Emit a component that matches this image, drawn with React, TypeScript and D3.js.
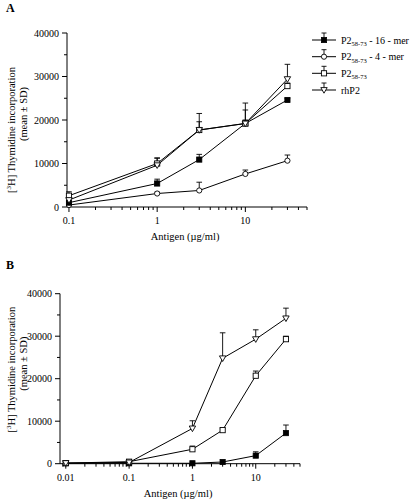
import React from "react";
import * as d3 from "d3";

// ---------- Data ----------
const concA = [0.1, 1, 3, 10, 30];
const a16mer = [1000, 5400, 10900, 19200, 24600];
const a16merSD = [300, 1000, 1200, 800, 400];
const a4mer = [450, 3100, 3800, 7600, 10650];
const a4merSD = [200, 300, 1900, 900, 1300];
const aP2pep = [2600, 10000, 17700, 19200, 27800];
const aP2pepSD = [900, 1300, 1900, 3100, 700];
const arhP2 = [1600, 9600, 17700, 19200, 29400];
const arhP2SD = [500, 1600, 3800, 4700, 3400];

const concB = [0.01, 0.1, 1, 3, 10, 30];
const b16mer = [100, 100, 100, 400, 1900, 7200];
const b16merSD = [0, 0, 0, 0, 900, 1900];
const bP2pep = [150, 470, 3400, 7900, 20700, 29300];
const bP2pepSD = [0, 0, 750, 300, 1100, 700];
const brhP2 = [150, 300, 8300, 24800, 29300, 34200];
const brhP2SD = [0, 0, 1800, 6000, 2200, 2400];

const yTicks = [0, 10000, 20000, 30000, 40000];
const yMinorTicks = [5000, 15000, 25000, 35000];

const legendNames = ["16-mer", "4-mer", "pep", "rhP2"];

type Marker = "fsq" | "circ" | "osq" | "tri";

interface Series {
  values: number[];
  sd: number[];
  marker: Marker;
}

const FONT = "Liberation Serif, Times New Roman, DejaVu Serif, serif";
const TS: React.CSSProperties = { fontFamily: FONT };

function MarkerShape({ type, cx, cy }: { type: Marker; cx: number; cy: number }) {
  const s = 2.6;
  if (type === "fsq")
    return <rect x={cx - s} y={cy - s} width={2 * s} height={2 * s} fill="#000" stroke="#000" strokeWidth={0.8} />;
  if (type === "osq")
    return <rect x={cx - s} y={cy - s} width={2 * s} height={2 * s} fill="#fff" stroke="#000" strokeWidth={0.9} />;
  if (type === "circ")
    return <circle cx={cx} cy={cy} r={2.6} fill="#fff" stroke="#000" strokeWidth={0.9} />;
  const t = 3.2;
  return (
    <path
      d={`M${cx - t},${cy - 2.4}L${cx + t},${cy - 2.4}L${cx},${cy + 3.2}Z`}
      fill="#fff"
      stroke="#000"
      strokeWidth={0.9}
    />
  );
}

function Panel({
  label,
  labelY,
  conc,
  series,
  xDomain,
  xRange,
  yRange,
  xTickVals,
  xTickLabels,
  yLab1,
  yLab2,
}: {
  label: string;
  labelY: number;
  conc: number[];
  series: Series[];
  xDomain: [number, number];
  xRange: [number, number];
  yRange: [number, number];
  xTickVals: number[];
  xTickLabels: string[];
  yLab1: number;
  yLab2: number;
}) {
  const x = d3.scaleLog().domain(xDomain).range(xRange);
  const y = d3.scaleLinear().domain([0, 40000]).range(yRange);
  const y0 = y(0);
  const xl = xRange[0];

  const minor: number[] = [];
  for (let e = -3; e <= 2; e++) {
    for (let m = 1; m <= 9; m++) {
      const v = m * Math.pow(10, e);
      if (v >= xDomain[0] && v <= xDomain[1] + 1e-9) minor.push(v);
    }
  }
  const line = d3
    .line<number>()
    .x((_, i) => x(conc[i]))
    .y((d) => y(d));

  const yMid = (yRange[0] + yRange[1]) / 2;
  const xMid = (xRange[0] + xRange[1]) / 2;

  return (
    <g>
      <text x={6} y={labelY} fontSize={12} fontWeight="bold" style={TS}>
        {label}
      </text>
      <line x1={xl} x2={xl} y1={y0} y2={yRange[1]} stroke="#000" strokeWidth={1} />
      <line x1={xl} x2={xRange[1]} y1={y0} y2={y0} stroke="#000" strokeWidth={1} />
      {yTicks.map((t) => (
        <g key={t}>
          <line x1={xl - 5} x2={xl} y1={y(t)} y2={y(t)} stroke="#000" />
          <text x={xl - 8} y={y(t) + 3.5} fontSize={10} textAnchor="end" style={TS}>
            {t}
          </text>
        </g>
      ))}
      {yMinorTicks.map((t) => (
        <line key={t} x1={xl - 3} x2={xl} y1={y(t)} y2={y(t)} stroke="#000" />
      ))}
      {minor.map((v) => {
        const major = Math.abs(Math.log10(v) - Math.round(Math.log10(v))) < 1e-6;
        return <line key={v} x1={x(v)} x2={x(v)} y1={y0} y2={y0 + (major ? 5 : 3)} stroke="#000" />;
      })}
      {xTickVals.map((v, i) => (
        <text key={v} x={x(v)} y={y0 + 17} fontSize={10} textAnchor="middle" style={TS}>
          {xTickLabels[i]}
        </text>
      ))}
      <text x={xMid - 2} y={y0 + 33} fontSize={10.5} textAnchor="middle" style={TS}>
        Antigen (µg/ml)
      </text>
      <text
        transform={`translate(15,${yMid + yLab1}) rotate(-90)`}
        fontSize={10.5}
        textAnchor="middle"
        style={TS}
      >
        [<tspan fontSize={7} dy={-4}>3</tspan>
        <tspan dy={4}>H] Thymidine incorporation</tspan>
      </text>
      <text
        transform={`translate(27,${yMid + yLab2}) rotate(-90)`}
        fontSize={10.5}
        textAnchor="middle"
        style={TS}
      >
        (mean ± SD)
      </text>
      {series.map((s, k) => (
        <path key={"l" + k} d={line(s.values) || ""} fill="none" stroke="#000" strokeWidth={1} />
      ))}
      {series.map((s, k) =>
        s.values.map((v, i) =>
          s.sd[i] > 0 ? (
            <g key={"e" + k + "-" + i}>
              <line x1={x(conc[i])} x2={x(conc[i])} y1={y(v)} y2={y(v + s.sd[i])} stroke="#000" strokeWidth={0.9} />
              <line
                x1={x(conc[i]) - 2.8}
                x2={x(conc[i]) + 2.8}
                y1={y(v + s.sd[i])}
                y2={y(v + s.sd[i])}
                stroke="#000"
                strokeWidth={0.9}
              />
            </g>
          ) : null
        )
      )}
      {series.map((s, k) =>
        s.values.map((v, i) => <MarkerShape key={"m" + k + "-" + i} type={s.marker} cx={x(conc[i])} cy={y(v)} />)
      )}
    </g>
  );
}

function Legend() {
  const markers: Marker[] = ["fsq", "circ", "osq", "tri"];
  const rows = [40, 56.7, 73.3, 90];
  return (
    <g>
      {legendNames.map((n, i) => {
        const cy = rows[i];
        return (
          <g key={n}>
            <line x1={312} x2={336} y1={cy} y2={cy} stroke="#000" />
            <line x1={324} x2={324} y1={cy} y2={cy - 7} stroke="#000" strokeWidth={0.9} />
            <line x1={321.5} x2={326.5} y1={cy - 7} y2={cy - 7} stroke="#000" strokeWidth={0.9} />
            <MarkerShape type={markers[i]} cx={324} cy={cy} />
            <text x={341} y={cy + 3.5} fontSize={10} style={TS}>
              {n === "rhP2" ? (
                "rhP2"
              ) : (
                <>
                  P2
                  <tspan fontSize={6.5} dy={2.5}>
                    58-73
                  </tspan>
                  {n === "pep" ? null : <tspan dy={-2.5}>{n === "16-mer" ? " - 16 - mer" : " - 4 - mer"}</tspan>}
                </>
              )}
            </text>
          </g>
        );
      })}
    </g>
  );
}

export default function App() {
  const seriesA: Series[] = [
    { values: a4mer, sd: a4merSD, marker: "circ" },
    { values: a16mer, sd: a16merSD, marker: "fsq" },
    { values: aP2pep, sd: aP2pepSD, marker: "osq" },
    { values: arhP2, sd: arhP2SD, marker: "tri" },
  ];
  const seriesB: Series[] = [
    { values: b16mer, sd: b16merSD, marker: "fsq" },
    { values: bP2pep, sd: bP2pepSD, marker: "osq" },
    { values: brhP2, sd: brhP2SD, marker: "tri" },
  ];
  return (
    <svg
      width={410}
      height={500}
      viewBox="0 0 410 500"
      style={{ position: "absolute", left: 0, top: 0, background: "#fff", fontFamily: FONT }}
    >
      <rect width={410} height={500} fill="#fff" />
      <Panel
        label="A"
        labelY={12}
        conc={concA}
        series={seriesA}
        xDomain={[0.095, 50]}
        xRange={[67, 307]}
        yRange={[207, 33]}
        xTickVals={[0.1, 1, 10]}
        xTickLabels={["0.1", "1", "10"]}
        yLab1={10}
        yLab2={-6}
      />
      <Panel
        label="B"
        labelY={269}
        conc={concB}
        series={seriesB}
        xDomain={[0.0081, 50]}
        xRange={[60, 300]}
        yRange={[463.7, 293.7]}
        xTickVals={[0.01, 0.1, 1, 10]}
        xTickLabels={["0.01", "0.1", "1", "10"]}
        yLab1={-9}
        yLab2={-15}
      />
      <Legend />
    </svg>
  );
}
